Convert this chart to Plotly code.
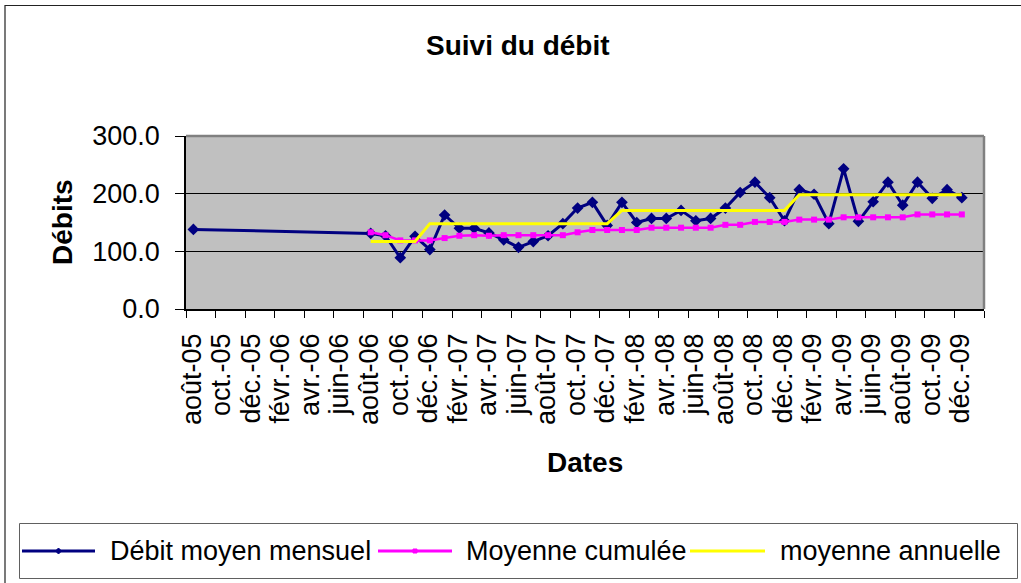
import pandas as pd
import plotly.graph_objects as go

# ---- data -------------------------------------------------------------
first_month = "2005-08"

# monthly mean flow (one isolated reading in Aug 2005, then a monthly series)
debit_months = ["2005-08"] + [str(p) for p in pd.period_range("2006-08", "2009-12", freq="M")]
debit_mensuel = [138,
                 131, 127, 89, 126, 103,
                 163, 140, 140, 132, 120, 107, 117, 127, 148, 175, 185, 145,
                 185, 150, 157, 157, 171, 153, 157, 175, 202, 220, 193, 153,
                 207, 199, 148, 243, 152, 186, 220, 180, 220, 192, 207, 193]

serie_months = [str(p) for p in pd.period_range("2006-08", "2009-12", freq="M")]
moyenne_cumulee = [133, 128, 119, 119, 119,
                   123, 127, 128, 127, 128, 128, 128, 128, 128, 133, 137, 137,
                   137, 137, 141, 141, 141, 141, 141, 146, 146, 151, 151, 151,
                   155, 155, 155, 159, 159, 159, 159, 159, 164, 164, 164, 164]
moyenne_annuelle = [117, 117, 117, 117,
                    148, 148, 148, 148, 148, 148, 148, 148, 148, 148, 148, 148, 148,
                    171, 171, 171, 171, 171, 171, 171, 171, 171, 171, 171, 171,
                    198, 198, 198, 198, 198, 198, 198, 198, 198, 198, 198, 198]

tick_labels = ["août-05", "oct.-05", "déc.-05", "févr.-06", "avr.-06", "juin-06",
               "août-06", "oct.-06", "déc.-06", "févr.-07", "avr.-07", "juin-07",
               "août-07", "oct.-07", "déc.-07", "févr.-08", "avr.-08", "juin-08",
               "août-08", "oct.-08", "déc.-08", "févr.-09", "avr.-09", "juin-09",
               "août-09", "oct.-09", "déc.-09"]
n_months_axis = 54  # Aug 2005 -> Feb 2010, one unit per month

# ---- helpers ----------------------------------------------------------
start = pd.Period(first_month, freq="M")


def month_center(m):
    """Position of a month on the axis: months are equal-width slots."""
    return (pd.Period(m, freq="M") - start).n + 0.5


FIG_W, FIG_H = 1021, 583
ML, MR, MT, MB = 186, 37, 136, 274
PW, PH = FIG_W - ML - MR, FIG_H - MT - MB


def px(xp):
    return (xp - ML) / PW


def py(yp):
    return (FIG_H - MB - yp) / PH


FONT = "Liberation Sans, Arial, sans-serif"
NAVY, MAGENTA, YELLOW = "#000080", "#FF00FF", "#FFFF00"

# ---- traces -----------------------------------------------------------
fig = go.Figure()
fig.add_trace(go.Scatter(
    x=[month_center(m) for m in debit_months], y=debit_mensuel,
    name="Débit moyen mensuel", mode="lines+markers",
    line=dict(color=NAVY, width=3),
    marker=dict(symbol="diamond", size=9, color=NAVY)))
fig.add_trace(go.Scatter(
    x=[month_center(m) for m in serie_months], y=moyenne_cumulee,
    name="Moyenne cumulée", mode="lines+markers",
    line=dict(color=MAGENTA, width=2.5),
    marker=dict(symbol="square", size=6, color=MAGENTA)))
fig.add_trace(go.Scatter(
    x=[month_center(m) for m in serie_months], y=moyenne_annuelle,
    name="moyenne annuelle", mode="lines",
    line=dict(color=YELLOW, width=3), xaxis="x2"))

# ---- axes -------------------------------------------------------------
label_pos = [2 * k + 0.4 for k in range(len(tick_labels))]

fig.update_layout(
    width=FIG_W, height=FIG_H,
    margin=dict(l=ML, r=MR, t=MT, b=MB),
    paper_bgcolor="white", plot_bgcolor="#C0C0C0",
    showlegend=False,
    font=dict(family=FONT, size=27, color="black"),
    xaxis=dict(range=[0, n_months_axis], tickmode="linear", tick0=0, dtick=2,
               ticks="outside", ticklen=7, tickwidth=1.2, tickcolor="black",
               showticklabels=False, showgrid=False, zeroline=False,
               showline=True, linecolor="black", linewidth=1.5),
    xaxis2=dict(range=[0, n_months_axis], overlaying="x", anchor="y", side="bottom",
                tickmode="array", tickvals=label_pos, ticktext=tick_labels,
                tickangle=-90, ticks="", ticklabelstandoff=18,
                tickfont=dict(family=FONT, size=27, color="black"),
                showgrid=False, zeroline=False, showline=False),
    yaxis=dict(range=[0, 300], tickmode="array", tickvals=[0, 100, 200, 300],
               tickformat=".1f", ticks="outside", ticklen=9, tickwidth=1.2,
               tickcolor="black", ticklabelstandoff=10,
               tickfont=dict(family=FONT, size=27, color="black"),
               showgrid=True, gridcolor="black", gridwidth=1,
               zeroline=False, showline=True, linecolor="black", linewidth=1.5),
)

# ---- frame, plot border, titles ---------------------------------------
shapes = [
    # chart border
    dict(type="rect", xref="paper", yref="paper",
         x0=px(5), x1=px(1040), y0=py(5.5), y1=py(600),
         line=dict(color="#222222", width=1.2), layer="above"),
    # plot-area border (top and right)
    dict(type="line", xref="paper", yref="paper", x0=0, x1=1, y0=1, y1=1,
         line=dict(color="#808080", width=2.5), layer="above"),
    dict(type="line", xref="paper", yref="paper", x0=1, x1=1, y0=0, y1=1,
         line=dict(color="#808080", width=2.5), layer="above"),
    # legend box
    dict(type="rect", xref="paper", yref="paper",
         x0=px(19.5), x1=px(1017.5), y0=py(523.5), y1=py(578.5),
         line=dict(color="#606060", width=1), fillcolor="white", layer="above"),
]

annotations = [
    dict(text="<b>Suivi du débit</b>", xref="paper", yref="paper",
         x=px(518), y=py(45), xanchor="center", yanchor="middle",
         showarrow=False, font=dict(family=FONT, size=28, color="black")),
    dict(text="<b>Débits</b>", xref="paper", yref="paper", textangle=-90,
         x=px(62), y=py(222), xanchor="center", yanchor="middle",
         showarrow=False, font=dict(family=FONT, size=28, color="black")),
    dict(text="<b>Dates</b>", xref="paper", yref="paper",
         x=px(585), y=py(462), xanchor="center", yanchor="middle",
         showarrow=False, font=dict(family=FONT, size=28, color="black")),
]

# legend entries: sample line, optional marker, label
legend_y = 551
legend_items = [
    (fig.data[0].name, NAVY, 22, 95, 108, "diamond", 3),
    (fig.data[1].name, MAGENTA, 378, 452, 464, "square", 2),
    (fig.data[2].name, YELLOW, 690, 765, 778, None, 0),
]
for name, color, x0, x1, xt, sym, r in legend_items:
    shapes.append(dict(type="line", xref="paper", yref="paper",
                       x0=px(x0), x1=px(x1), y0=py(legend_y), y1=py(legend_y),
                       line=dict(color=color, width=3), layer="above"))
    xc = (x0 + x1) / 2
    if sym == "diamond":
        path = (f"M{px(xc - r)},{py(legend_y)} L{px(xc)},{py(legend_y - r)} "
                f"L{px(xc + r)},{py(legend_y)} L{px(xc)},{py(legend_y + r)} Z")
        shapes.append(dict(type="path", xref="paper", yref="paper", path=path,
                           fillcolor=color, line=dict(color=color, width=1), layer="above"))
    elif sym == "square":
        shapes.append(dict(type="rect", xref="paper", yref="paper",
                           x0=px(xc - r), x1=px(xc + r), y0=py(legend_y - r), y1=py(legend_y + r),
                           fillcolor=color, line=dict(color=color, width=1), layer="above"))
    annotations.append(dict(text=name, xref="paper", yref="paper",
                            x=px(xt), y=py(legend_y), xanchor="left", yanchor="middle",
                            showarrow=False, font=dict(family=FONT, size=27, color="black")))

fig.update_layout(shapes=shapes, annotations=annotations)

fig.write_html("out.html")
